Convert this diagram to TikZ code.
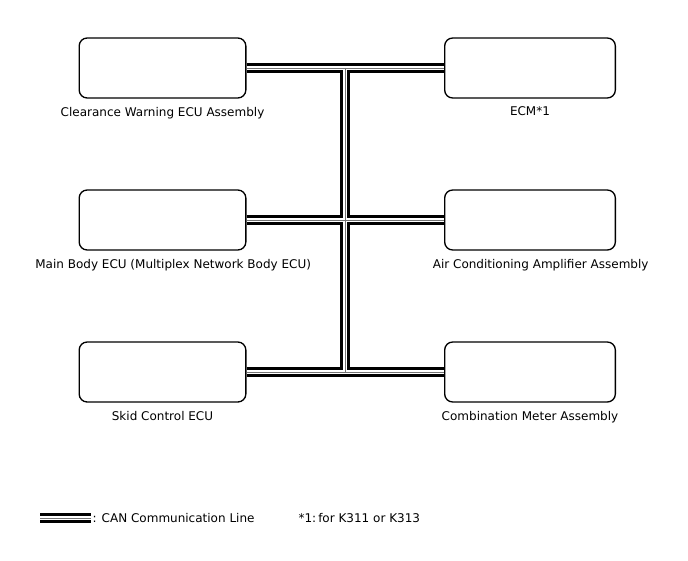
\documentclass[tikz,border=0pt]{standalone}
\usepackage{fontspec}
\setmainfont{DejaVu Sans}
\usetikzlibrary{positioning}

\begin{document}
\begin{tikzpicture}[
  x=0.75pt, y=-0.75pt,
  every node/.style={font=\fontsize{9}{11}\selectfont},
  ecu/.style={draw, line width=1pt, rounded corners=6pt,
              minimum width=125pt, minimum height=45pt, inner sep=0pt},
  lbl/.style={inner sep=1pt},
  canout/.style={line width=7pt, black},
  cangap/.style={line width=3.5pt, white},
  cancore/.style={line width=0.6pt, black!55},
]
\useasboundingbox (0,0) rectangle (688,560);

% ECUs
\node[ecu] (cwecu) at (162.5,68) {};
\node[ecu] (mainbody) at (162.5,220) {};
\node[ecu] (skid) at (162.5,372) {};
\node[ecu, minimum width=128pt] (ecm) at (530,68) {};
\node[ecu, minimum width=128pt] (acamp) at (530,220) {};
\node[ecu, minimum width=128pt] (meter) at (530,372) {};

\node[lbl, below=5pt of cwecu] (cwecu-l) {Clearance Warning ECU Assembly};
\node[lbl, below=5pt of mainbody, xshift=8pt] (mainbody-l) {Main Body ECU (Multiplex Network Body ECU)};
\node[lbl, below=5pt of skid] (skid-l) {Skid Control ECU};
\node[lbl, below=5pt of ecm] (ecm-l) {ECM*1};
\node[lbl, below=5pt of acamp, xshift=8pt] (acamp-l) {Air Conditioning Amplifier Assembly};
\node[lbl, below=5pt of meter] (meter-l) {Combination Meter Assembly};

% CAN bus
\coordinate (jtop) at (345,68);
\coordinate (jbot) at (345,372);
\coordinate (legA) at (40,518);
\coordinate (legB) at (91,518);
\foreach \s in {canout,cangap,cancore} {
  \draw[\s] (cwecu.east) -- (ecm.west);
  \draw[\s] (mainbody.east) -- (acamp.west);
  \draw[\s] (skid.east) -- (meter.west);
  \draw[\s] (jtop) -- (jbot);
  \draw[\s] (legA) -- (legB);
}

% legend
\node[lbl, anchor=west] (leg-l) at (legB) {: CAN Communication Line};
\node[lbl, anchor=west] (note) at (297,518) {*1:\,for K311 or K313};
\end{tikzpicture}
\end{document}
